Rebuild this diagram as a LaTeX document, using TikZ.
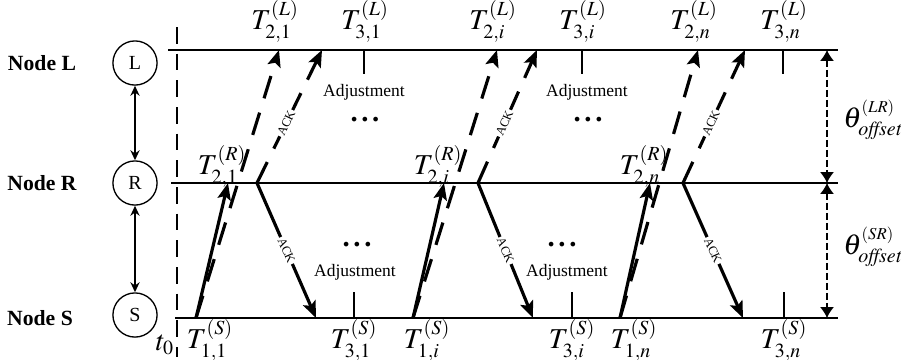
\documentclass[tikz,border=0pt]{standalone}
\usepackage{mathptmx}
\usepackage{fontspec}
\setmainfont{Liberation Serif}
\usetikzlibrary{arrows.meta}

\tikzset{
    timeline/.style={line width=1.2pt},
    startline/.style={line width=1.4pt, dash pattern=on 10pt off 6pt},
    msg/.style={line width=1.9pt, -{Stealth[length=10pt,width=8pt,inset=2pt]}},
    msgdash/.style={msg, dash pattern=on 14pt off 9pt},
    acklabel/.style={sloped, fill=white, inner sep=0.8pt,
        font=\fontsize{7.5}{8}\selectfont},
    adjtick/.style={line width=1.1pt},
    link/.style={line width=1.2pt, {Stealth[length=6pt,width=5.5pt]}-{Stealth[length=6pt,width=5.5pt]}},
    offsetarrow/.style={line width=1.1pt, dash pattern=on 4pt off 2pt,
        {Latex[length=6.5pt,width=8.5pt]}-{Latex[length=6.5pt,width=8.5pt]}},
    nodecirc/.style={circle, draw, line width=0.8pt, minimum size=26.5pt,
        inner sep=0pt, font=\large},
    nodename/.style={font=\fontsize{13}{15}\selectfont\bfseries},
    tlabel/.style={font=\LARGE, inner sep=0pt},
    dotslabel/.style={font=\LARGE\bfseries, inner sep=0pt},
    adjlabel/.style={font=\fontsize{10.5}{12}\selectfont, inner sep=0pt},
}

\begin{document}
\begin{tikzpicture}[x=0.6pt, y=-0.6pt]
    \useasboundingbox (0,0) rectangle (901,359);

    % time lines
    \coordinate (La) at (168,50);
    \coordinate (Lb) at (838,50);
    \coordinate (Ra) at (171,183);
    \coordinate (Rb) at (838,183);
    \coordinate (Sa) at (175,318);
    \coordinate (Sb) at (838,318);
    \coordinate (t0a) at (177,27);
    \coordinate (t0b) at (177,357);

    \draw[timeline] (La) -- (Lb);
    \draw[timeline] (Ra) -- (Rb);
    \draw[timeline] (Sa) -- (Sb);
    \draw[startline] (t0a) -- (t0b);
    \node[tlabel] (t0) at (165,345) {$t_0$};

    % the three nodes
    \node[nodecirc] (cL) at (135,63) {L};
    \node[nodecirc] (cR) at (135,183) {R};
    \node[nodecirc] (cS) at (135,315) {S};
    \node[nodename] (nL) at (42,63) {Node L};
    \node[nodename] (nR) at (42,183) {Node R};
    \node[nodename] (nS) at (40,318) {Node S};
    \draw[link] (cL) -- (cR);
    \draw[link] (cR) -- (cS);

    % one exchange per round
    \foreach \k/\s/\r/\dl/\ar/\al/\as/\tl/\ts in {
        1/196/228/279/257/322/316/364/354,
        i/413/444/497/478/537/533/582/572,
        n/620/650/698/683/745/743/783/784}{
        \coordinate (send\k) at (\s,318);
        \coordinate (recR\k) at (\r,183);
        \coordinate (recL\k) at (\dl,50);
        \coordinate (ackR\k) at (\ar,183);
        \coordinate (ackL\k) at (\al,50);
        \coordinate (ackS\k) at (\as,318);
        \coordinate (adjL\k) at (\tl,50);
        \coordinate (adjLe\k) at (\tl,74);
        \coordinate (adjS\k) at (\ts,318);
        \coordinate (adjSe\k) at (\ts,292);

        \draw[msg] (send\k) -- (recR\k);
        \draw[msgdash] (send\k) -- (recL\k);
        \draw[msgdash] (ackR\k) -- node[acklabel, pos=0.45] {ACK} (ackL\k);
        \draw[msg] (ackR\k) -- node[acklabel] {ACK} (ackS\k);
        \draw[adjtick] (adjL\k) -- (adjLe\k);
        \draw[adjtick] (adjS\k) -- (adjSe\k);

        \node[tlabel] (TS1\k) at (\s+14,340) {$T^{(S)}_{1,\k}$};
        \node[tlabel] (TR2\k) at (\r-6,166) {$T^{(R)}_{2,\k}$};
        \node[tlabel] (TL2\k) at (\dl-4,21) {$T^{(L)}_{2,\k}$};
        \node[tlabel] (TL3\k) at (\tl+1,21) {$T^{(L)}_{3,\k}$};
        \node[tlabel] (TS3\k) at (\ts,340) {$T^{(S)}_{3,\k}$};
    }

    % adjustment notes
    \foreach \k/\ax/\dx/\bx/\ex in {1/364/365/355/357, i/587/588/567/562}{
        \node[adjlabel] (adjtxtL\k) at (\ax,92) {Adjustment};
        \node[dotslabel] (dotsL\k) at (\dx,120) {.\kern2.2pt.\kern2.2pt.};
        \node[adjlabel] (adjtxtS\k) at (\bx,272) {Adjustment};
        \node[dotslabel] (dotsS\k) at (\ex,245) {.\kern2.2pt.\kern2.2pt.};
    }

    % clock offsets
    \coordinate (oL) at (827,50);
    \coordinate (oR) at (827,183);
    \coordinate (oS) at (827,318);
    \draw[offsetarrow] (oL) -- (oR);
    \draw[offsetarrow] (oR) -- (oS);
    \node[tlabel] (thLR) at (873,120)
        {$\theta^{\scriptscriptstyle(LR)}_{\mathit{offset}}$};
    \node[tlabel] (thSR) at (873,247)
        {$\theta^{\scriptscriptstyle(SR)}_{\mathit{offset}}$};
\end{tikzpicture}
\end{document}
